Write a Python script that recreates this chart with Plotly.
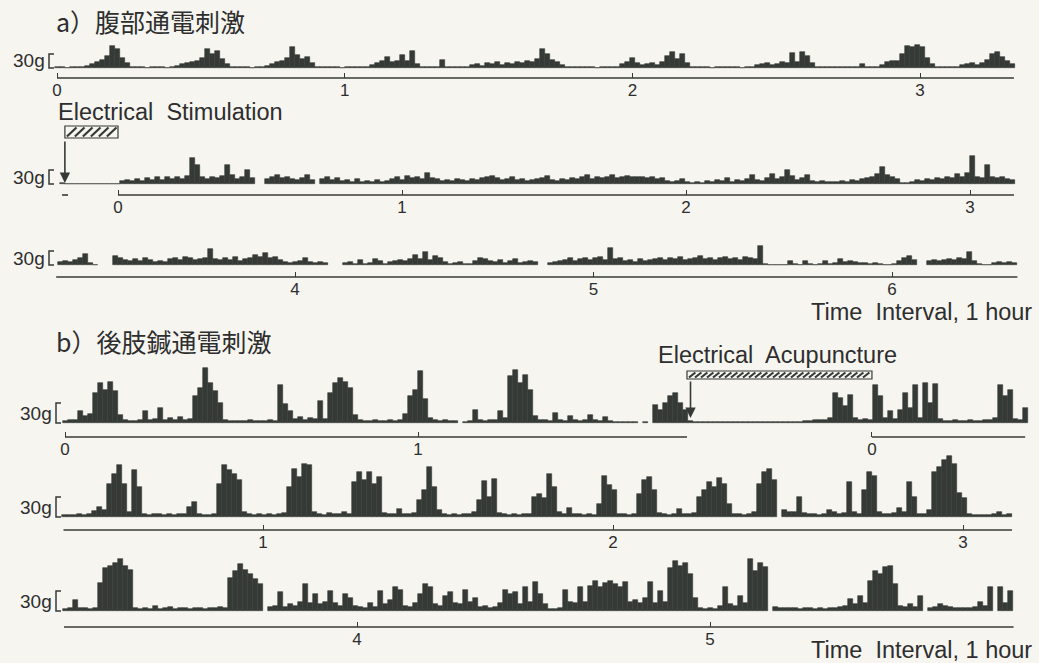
import numpy as np
import plotly.graph_objects as go

W, H = 1039, 663
INK = "#363a36"
TXT = "#2e2e2e"
BG = "#f6f5f0"
LATIN = "Liberation Sans, Arial, sans-serif"
CJK = "Noto Sans CJK JP, sans-serif"

# ---------------- recorded contraction force (g), evenly sampled per strip ----------------
# a) abdominal electrical stimulation
a1_span = [0.0, 3.32]          # hours
a1_force = [2, 2, 1, 2, 2,
            3, 5, 8, 12, 18, 26, 48, 40, 22, 10,
            3, 2, 2, 1, 2, 2, 2, 1, 2,
            5, 8, 10, 12, 16, 22, 40, 30, 36, 20, 8, 3,
            2, 2, 2, 1, 2, 2,
            4, 8, 12, 16, 22, 46, 28, 20, 24, 10, 3,
            2, 2, 2, 2, 1, 2, 2, 2, 3, 2,
            6, 10, 14, 24, 12, 16, 28, 14, 36, 8, 3, 2, 2, 3, 18, 3,
            2, 2, 2, 3,
            6, 8, 5, 10, 8, 12, 7, 10, 8, 12, 10, 14, 12, 20, 40, 30, 18, 12, 6, 3,
            2, 2, 2, 2, 2, 1, 2, 2, 2, 3,
            8, 12, 22, 10, 6, 8, 10, 6, 12, 26, 34, 20, 30, 10, 3,
            2, 2, 2, 1, 2, 2, 2, 2, 2, 1, 2, 2,
            6, 8, 10, 7, 8, 12, 10, 32, 12, 34, 26, 10, 3,
            2, 2, 2, 2, 2, 2, 2, 2, 8, 2, 2, 2,
            6, 12, 16, 14, 30, 48, 44, 50, 46, 22, 8, 3,
            2, 3, 2, 2,
            6, 8, 10, 6, 10, 18, 30, 34, 24, 16, 8]

a2_span = [-0.197, 3.148]
a2_force = [3, 0.5, 0.5, 0.5, 0.5, 0.5, 0.5, 0.5, 0.5, 0.5, 0.5, 0.5,
            6, 8, 6, 10, 7, 12, 8, 14, 9, 16, 10, 14, 10, 18, 56, 40, 14, 10,
            16, 12, 18, 40, 20, 10, 16, 30, 12, None, None,
            10, 14, 20, 12, 16, 10, 8, 12, 20, 8, None,
            10, 14, 8, 12, 6, 8, 5, 10, 4, 6, 4, 8, 5, 6, 10, 14, 8, 18, 12, 16,
            10, 24, 12, 10, 6, 8, 6, 10, 8, 6, 10, 8, 12, 16, 18, 12, 8, 10, 14, 8,
            10, 6, 8, 10, 12, 18, 8, 6, 10, 8, 12, 10, 14, 20, 10, 14, 12, 16, 20, 12,
            14, 18, 16, 14, 16, 12, 14, 10, 12, 6, 4, 6, 10, 5, 3, 4, 3, 6, 4, 8,
            6, 12, 4, 8, 6, 10, 20, 8, 6, 12, 22, 10, 14, 30, 18, 8, 12, 20, 6, 4,
            6, 4, 5, 4, 6, 5, 8, 6, 10, 12, 16, 22, 36, 20, 16, 10, 3, 2, 4, 8,
            6, 10, 8, 12, 10, 14, 12, 22, 14, 24, 60, 16, 12, 40, 16, 12, 14, 10, 8]

a3_span = [3.213, 6.412]
a3_force = [6, 8, 6, 10, 14, 24, 4, 1, None, None, None,
            20, 16, 10, 8, 12, 8, 14, 10, 6, 8, 6, 12, 16, 10, 18, 14, 10, 12, 16,
            34, 12, 10, 14, 10, 18, 8, 12, 16, 22, 18, 26, 14, 18, 10, 6, 4, 6, 8, 14,
            6, 4, 6, 4, None, None, None,
            4, 6, 3, 10, 3, 4, 12, 8, 3, 6, 8, 10, 8, 12, 22, 12, 28, 10, 20, 14,
            6, 3, 4, 6, 3, 2, 8, 16, 12, 8, 6, 10, 4, 8, 12, 4, 6, 8, 6, None, None,
            4, 6, 8, 10, 14, 8, 12, 16, 10, 14, 18, 10, 36, 12, 16, 8, 10, 6, 12, 8,
            10, 12, 14, 10, 16, 12, 18, 10, 12, 16, 20, 12, 16, 10, 14, 18, 12, 14, 10, 18,
            16, 12, 40, 2, 1, 1, 1, 1, 8, 2, 1, 8, 2, 1, 3, 8, 2, 4, 12, 6,
            8, 6, 4, 5, 2, 4, 2, 1, 1, 3, 8, 14, 20, 10, None, None,
            8, 10, 8, 10, 12, 10, 14, 12, 28, 8, 2, 1, 1, 4, 6, 4, 6, 5]

# b) hind-limb electro-acupuncture
b1_span = [0.0, 2.72]
b1_force = [3, 4, 5, 18, 10, 14, 45, 60, 50, 62, 48, 12, 4, 3, 3, 4, 18, 4, 6, 22,
            5, 8, 4, 9, 5, 6, 40, 52, 82, 60, 48, 30, 4, 3, 3, 3, 3, 4, 3, 3,
            3, 4, 3, 57, 28, 18, 6, 9, 5, 8, 6, 33, 6, 45, 60, 68, 62, 52, 12, 4,
            3, 3, 4, 3, 3, 4, 3, 4, 14, 40, 50, 78, 36, 8, 4, 3, 4, 3, 3, None,
            2, 3, 20, 4, 3, 5, 4, 18, 8, 70, 80, 60, 72, 50, 10, 5, 4, 3, 15, 4,
            3, 10, 4, 3, 4, 12, 4, 3, 9, 3, 2, 0.8, 0.8, 0.8, 0.8, None, 0.8, None,
            27, 20, 30, 40, 45, 30, 20, 3,
            2, 1, 2, 2, 1, 2, 2, 2, 1, 2, 2, 2, 1, 2, 2, 2, 2, 1, 2, 2, 2, 2, 3, 3,
            4, 5, 4, 8, 45, 38, 25, 42, 8, 5, 6, 5, 57, 40, 8, 18, 6, 20, 45, 22,
            57, 8, 60, 30, 58, 6, 3, 3, 4, 3, 3, 4, 3, 3, 4, 5, 8, 57, 40, 50,
            6, 4, 22]
b1_stim = [1.762, 2.286]       # electro-acupuncture on / off (recording hours)

b2_span = [0.434, 3.134]
b2_force = [3, 3, 3, 4, 3, 4, 9, 15, 10, 50, 65, 78, 50, 8, 70, 45, 4, 3, 4, 5,
            3, 4, 3, 4, 5, 15, 22, 4, 3, 3, 4, 50, 78, 70, 65, 55, 8, 4, 3, 4,
            3, 4, 3, 5, 6, 45, 72, 60, 80, 78, 8, 4, 3, 6, 5, 4, 8, 5, 52, 68,
            55, 68, 50, 60, 6, 5, 4, 12, 5, 4, 6, 25, 40, 75, 45, 10, 4, 3, 4, 3,
            5, 4, 8, 25, 54, 30, 57, 6, 4, 3, 4, 3, 4, 5, 30, 35, 28, 64, 45, 8,
            4, 14, 5, 4, 3, 4, 3, 20, 62, 48, 40, 5, 4, 3, 5, 35, 55, 60, 40, 6,
            4, 3, 4, 12, 5, 4, 6, 30, 40, 52, 45, 58, 50, 20, 5, 4, 3, 5, 8, 50,
            68, 72, 55, None, 10, 8, 7, 30, 6, 5, 4, 3, 5, 10, 8, 4, 6, 52, 8, 5,
            40, 68, 62, 8, 4, 5, 6, 14, 8, 52, 30, 5, 4, 10, 68, 75, 85, 92, 80, 36,
            28, 4, 3, 3, 3, 3, 4, 7, 3, 4]

b3_span = [3.173, 5.850]
b3_force = [3, 4, 16, 5, 4, 3, 5, 42, 65, 68, 72, 78, 68, 62, 5, 3, 4, 3, 8, 3,
            4, 6, 3, 5, 4, 3, 5, 4, 3, 4, 5, 6, 4, 50, 60, 70, 62, 55, 48, 40,
            None, 6, 8, 28, 6, 10, 8, 14, 40, 12, 26, 10, 14, 30, 12, 8, 26, 20, 8, 6,
            5, 12, 6, 30, 10, 16, 36, 32, 8, 6, 12, 26, 40, 36, 10, 8, 22, 28, 12, 10,
            32, 14, 20, 6, 8, 5, 6, 12, 32, 26, 28, 10, 36, 14, 44, 26, 10, 3, 3, 4,
            32, 14, 12, 36, 14, 38, 45, 36, 42, 45, 40, 36, 44, 14, 16, 12, 20, 44, 12, 30,
            14, 65, 75, 68, 72, 55, 20, 4, 3, 4, 3, 8, 36, 10, 8, 22, 12, 78, 60, 72,
            66, None, 6, 4, 5, 4, 5, 3, 4, 5, 3, 4, 3, 4, 5, 6, 8, 18, 10, 22,
            12, 45, 60, 55, 66, 68, 40, 8, 6, 10, 6, 22, None, 5, 6, 10, 8, 6, 5, 4,
            5, 4, 6, 14, 8, 36, None, 36, 12, 30]

# timeline segments and tick labels for each strip
a1_line = [[0.0, 3.326]]
a2_line = [[0.0, 3.155], [-0.197, -0.176]]
a3_line = [[3.20, 6.42]]
b1_line = [[0.0, b1_stim[0]], [b1_stim[1], 2.72]]
b2_line = [[0.43, 3.14]]
b3_line = [[3.17, 5.86]]
a_stim = [-0.197, 0.0]          # abdominal stimulation period (hours)

# ---------------- strip geometry (pixels of the page) ----------------
rows = [
    dict(t=a1_span, v=a1_force, lines=a1_line, tv=[0, 1, 2, 3], tt=["0", "1", "2", "3"],
         xa=57, ta=0.0, pph=287.7, axis_y=78, base_y=68, gpp=30 / 14, head=62, bx=49),
    dict(t=a2_span, v=a2_force, lines=a2_line, tv=[0, 1, 2, 3], tt=["0", "1", "2", "3"],
         xa=118, ta=0.0, pph=284.0, axis_y=195, base_y=184, gpp=30 / 14, head=62, bx=49),
    dict(t=a3_span, v=a3_force, lines=a3_line, tv=[4, 5, 6], tt=["4", "5", "6"],
         xa=295, ta=4.0, pph=298.5, axis_y=277, base_y=265, gpp=30 / 14, head=62, bx=49),
    dict(t=b1_span, v=b1_force, lines=b1_line, tv=[0, 1, b1_stim[1]], tt=["0", "1", "0"],
         xa=65, ta=0.0, pph=353.0, axis_y=437, base_y=423, gpp=1.5, head=80, bx=56),
    dict(t=b2_span, v=b2_force, lines=b2_line, tv=[1, 2, 3], tt=["1", "2", "3"],
         xa=263, ta=1.0, pph=350.0, axis_y=530, base_y=517, gpp=1.5, head=80, bx=56),
    dict(t=b3_span, v=b3_force, lines=b3_line, tv=[4, 5], tt=["4", "5"],
         xa=357, ta=4.0, pph=353.0, axis_y=627, base_y=611, gpp=1.5, head=80, bx=56),
]

X0, X1 = 30, 1035


def px_of(row, t):
    return row["xa"] + (t - row["ta"]) * row["pph"]


def py(p):
    return 1 - p / H


fig = go.Figure()
shapes, annotations = [], []

for k, row in enumerate(rows, start=1):
    sfx = "" if k == 1 else str(k)
    xname, yname = "x" + sfx, "y" + sfx
    n = len(row["v"])
    t = np.linspace(row["t"][0], row["t"][1], n)
    dt = (row["t"][1] - row["t"][0]) / (n - 1)
    # each sample drawn as a solid column of the recorder trace
    fig.add_trace(go.Bar(
        x=t, y=row["v"], xaxis=xname, yaxis=yname, width=dt,
        marker=dict(color=INK, line=dict(color=INK, width=0.6)),
        hoverinfo="skip", showlegend=False))

    rng_x = [row["ta"] + (X0 - row["xa"]) / row["pph"], row["ta"] + (X1 - row["xa"]) / row["pph"]]
    top_px = row["base_y"] - row["head"]
    dom_y = [py(row["axis_y"]), min(1.0, py(top_px))]
    rng_y = [-(row["axis_y"] - row["base_y"]) * row["gpp"], row["head"] * row["gpp"]]
    fig.update_layout(**{
        "xaxis" + sfx: dict(domain=[X0 / W, X1 / W], range=rng_x, anchor=yname,
                            showgrid=False, zeroline=False, showline=False,
                            ticks="inside", ticklen=5, tickwidth=1.3, tickcolor=INK,
                            tickmode="array", tickvals=row["tv"], ticktext=row["tt"],
                            tickfont=dict(family=LATIN, size=17, color=TXT)),
        "yaxis" + sfx: dict(domain=dom_y, range=rng_y, anchor=xname, visible=False),
    })

    # timeline under the strip
    for a, b in row["lines"]:
        shapes.append(dict(type="line", xref=xname, yref=yname + " domain",
                           x0=a, x1=b, y0=0, y1=0, line=dict(color=INK, width=1.6)))

    # 30 g calibration bracket
    bx0 = row["bx"] / W
    bx1 = (row["bx"] + 5) / W
    shapes.append(dict(type="path", xref="paper", yref=yname,
                       path=f"M {bx1},30 L {bx0},30 L {bx0},0 L {bx1},0",
                       line=dict(color=INK, width=1.5)))
    annotations.append(dict(text="30g", xref="paper", yref=yname, x=(row["bx"] - 2) / W, y=15,
                            xanchor="right", yanchor="middle", showarrow=False,
                            font=dict(family=LATIN, size=19, color=TXT)))


def hatch_bar(row, t0, t1, ytop, ybot, step):
    x0p, x1p = px_of(row, t0), px_of(row, t1)
    shapes.append(dict(type="rect", xref="paper", yref="paper",
                       x0=x0p / W, x1=x1p / W, y0=py(ybot), y1=py(ytop),
                       line=dict(color=INK, width=1.2), fillcolor="rgba(0,0,0,0)"))
    h = ybot - ytop
    x = x0p + 2
    while x + h * 0.8 < x1p - 1:
        shapes.append(dict(type="line", xref="paper", yref="paper",
                           x0=x / W, y0=py(ybot - 1.5), x1=(x + h * 0.8) / W, y1=py(ytop + 1.5),
                           line=dict(color=INK, width=2.2)))
        x += step


def stim_arrow(row, t, tail, tip):
    annotations.append(dict(x=px_of(row, t) / W, y=py(tip), xref="paper", yref="paper",
                            ax=0, ay=-(tip - tail), text="", showarrow=True,
                            arrowhead=2, arrowsize=1.3, arrowwidth=1.6, arrowcolor=INK))


hatch_bar(rows[1], a_stim[0] + 0.01, a_stim[1], 126, 138, 8)
stim_arrow(rows[1], a_stim[0] + 0.01, 140, 183)
hatch_bar(rows[3], b1_stim[0], b1_stim[1], 371, 379, 6)
stim_arrow(rows[3], b1_stim[0] + 0.01, 380, 418)


def label(text, x, y, size, anchor="left", family=LATIN):
    annotations.append(dict(text=text, x=x / W, y=py(y), xref="paper", yref="paper",
                            xanchor=anchor, yanchor="middle", showarrow=False,
                            font=dict(family=family, size=size, color=TXT)))


label("a）腹部通電刺激", 54, 21, 25, family=CJK)
label("Electrical\u00a0 Stimulation", 56, 112, 23.5)
label("Time\u00a0 Interval, 1 hour", 1034, 312, 23.5, anchor="right")
label("b）後肢鍼通電刺激", 54, 341, 25, family=CJK)
label("Electrical\u00a0 Acupuncture", 656, 355, 23.5)
label("Time\u00a0 Interval, 1 hour", 1034, 650, 23.5, anchor="right")

fig.update_layout(width=W, height=H, margin=dict(l=0, r=0, t=0, b=0),
                  paper_bgcolor=BG, plot_bgcolor="rgba(0,0,0,0)", bargap=0,
                  shapes=shapes, annotations=annotations, showlegend=False)

fig.write_html("out.html")
